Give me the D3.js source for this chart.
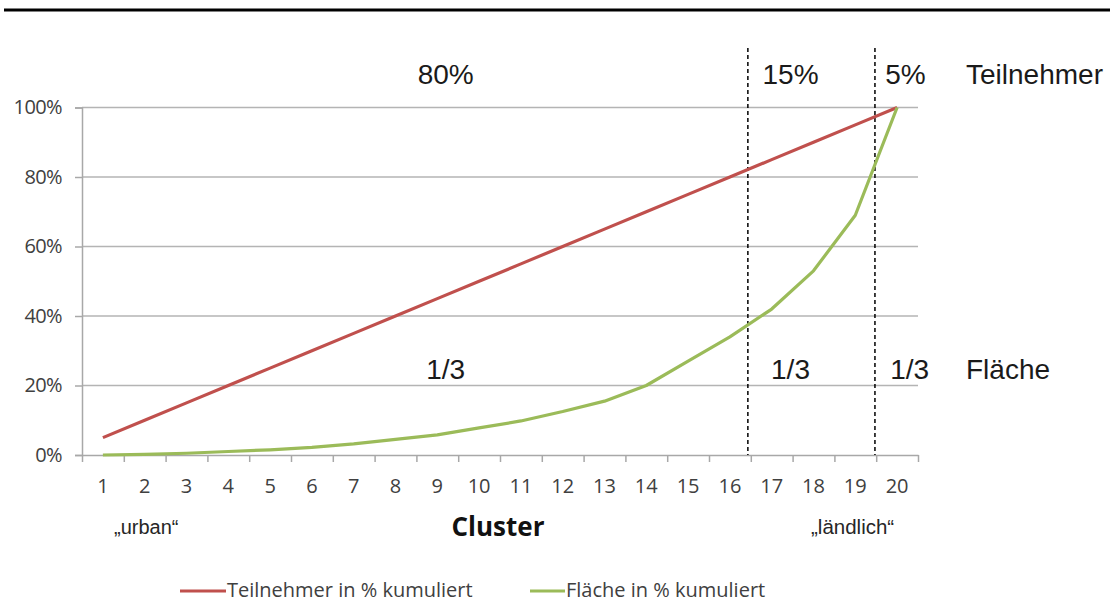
<!DOCTYPE html>
<html><head><meta charset="utf-8">
<script src="https://cdn.jsdelivr.net/npm/d3@7"></script>
<style>html,body{margin:0;padding:0;background:#fff;}svg{display:block;}</style>
</head><body>
<script>
const clusters = d3.range(1, 21);
const teilnehmer = [5,10,15,20,25,30,35,40,45,50,55,60,65,70,75,80,85,90,95,100];
const flaeche = [0,0.2,0.5,1,1.5,2.2,3.2,4.5,5.8,7.8,9.8,12.5,15.5,20,27,34,42,53,69,100];
const yTicks = [0,20,40,60,80,100];
const dividers = [16.43, 19.47];
const topLabels = [{c: 9.2, t: "80%"}, {c: 17.45, t: "15%"}, {c: 20.2, t: "5%"}];
const bottomLabels = [{c: 9.2, t: "1/3"}, {c: 17.45, t: "1/3"}, {c: 20.3, t: "1/3"}];
const seriesNames = ["Teilnehmer in % kumuliert", "Fläche in % kumuliert"];
const colors = ["#C0504D", "#9BBB59"];

const W = 1110, H = 603;
const svg = d3.select("body").append("svg").attr("width", W).attr("height", H);

// top rule
svg.append("line").attr("x1", 4).attr("x2", W).attr("y1", 10).attr("y2", 10)
  .attr("stroke", "#000").attr("stroke-width", 3);

const x = d3.scaleLinear().domain([0.5, 20.5]).range([82, 918]);
const y = d3.scaleLinear().domain([0, 100]).range([455, 107.5]);

// gridlines
svg.append("g").selectAll("line").data(yTicks.filter(d => d > 0)).join("line")
  .attr("x1", x(0.5)).attr("x2", x(20.5))
  .attr("y1", d => y(d)).attr("y2", d => y(d))
  .attr("stroke", "#b4b4b4").attr("stroke-width", 1.5);

// y axis
const yAxis = svg.append("g").attr("transform", `translate(${x(0.5)},0)`)
  .call(d3.axisLeft(y).tickValues(yTicks).tickFormat(d => d + "%").tickSize(7).tickPadding(13));
yAxis.select(".domain").attr("stroke", "#a8a8a8").attr("stroke-width", 1.5);
yAxis.selectAll(".tick line").attr("stroke", "#a8a8a8").attr("stroke-width", 1.5);
yAxis.selectAll("text").attr("font-family", "'Open Sans', sans-serif").attr("font-size", 20)
  .attr("letter-spacing", -0.6).attr("fill", "#404040");

// x axis
const xAxis = svg.append("g").attr("transform", `translate(0,${y(0)})`)
  .call(d3.axisBottom(x).tickValues(d3.range(0.5, 21, 1)).tickFormat("").tickSize(7).tickSizeOuter(0));
xAxis.select(".domain").attr("stroke", "#a8a8a8").attr("stroke-width", 1.5);
xAxis.selectAll(".tick line").attr("stroke", "#a8a8a8").attr("stroke-width", 1.5);
svg.append("g").selectAll("text").data(clusters).join("text")
  .attr("x", d => x(d)).attr("y", 493).attr("text-anchor", "middle")
  .attr("font-family", "'Open Sans', sans-serif").attr("font-size", 20).attr("fill", "#404040")
  .text(d => d);

// dividers
svg.append("g").selectAll("line").data(dividers).join("line")
  .attr("x1", d => x(d)).attr("x2", d => x(d)).attr("y1", 48).attr("y2", y(0))
  .attr("stroke", "#000").attr("stroke-width", 1.5).attr("stroke-dasharray", "4,3");

// lines
const line = d3.line().x((d, i) => x(clusters[i])).y(d => y(d));
[teilnehmer, flaeche].forEach((s, i) => {
  svg.append("path").datum(s).attr("d", line).attr("fill", "none")
    .attr("stroke", colors[i]).attr("stroke-width", 3.2).attr("stroke-linejoin", "round");
});

// annotations
const ann = svg.append("g").attr("font-family", "'Liberation Sans', Arial, sans-serif")
  .attr("font-size", 28).attr("fill", "#1a1a1a");
ann.selectAll("text.top").data(topLabels).join("text").attr("class", "top")
  .attr("x", d => x(d.c)).attr("y", 84).attr("text-anchor", "middle").text(d => d.t);
ann.selectAll("text.bot").data(bottomLabels).join("text").attr("class", "bot")
  .attr("x", d => x(d.c)).attr("y", 379).attr("text-anchor", "middle").text(d => d.t);
ann.append("text").attr("x", 966).attr("y", 84).text("Teilnehmer");
ann.append("text").attr("x", 966).attr("y", 379).text("Fläche");

// axis annotations
svg.append("text").attr("x", 114).attr("y", 534)
  .attr("font-family", "'Liberation Sans', Arial, sans-serif").attr("font-size", 20).attr("fill", "#262626")
  .text("\u201Eurban\u201C");
svg.append("text").attr("x", 811).attr("y", 534)
  .attr("font-family", "'Liberation Sans', Arial, sans-serif").attr("font-size", 20.5).attr("fill", "#262626")
  .text("\u201Eländlich\u201C");
svg.append("text").attr("x", 498).attr("y", 536).attr("text-anchor", "middle")
  .attr("font-family", "'Open Sans', sans-serif").attr("font-weight", "bold").attr("font-size", 26)
  .attr("fill", "#111").text("Cluster");

// legend
const leg = svg.append("g");
const legX = [180, 530];
const legLen = [46, 35];
seriesNames.forEach((n, i) => {
  leg.append("line").attr("x1", legX[i]).attr("x2", legX[i] + legLen[i]).attr("y1", 591).attr("y2", 591)
    .attr("stroke", colors[i]).attr("stroke-width", 3);
  leg.append("text").attr("x", legX[i] + legLen[i] + 1).attr("y", 597)
    .attr("font-family", "'Open Sans', sans-serif").attr("font-size", 20).attr("fill", "#404040")
    .text(n);
});
</script>
</body></html>
